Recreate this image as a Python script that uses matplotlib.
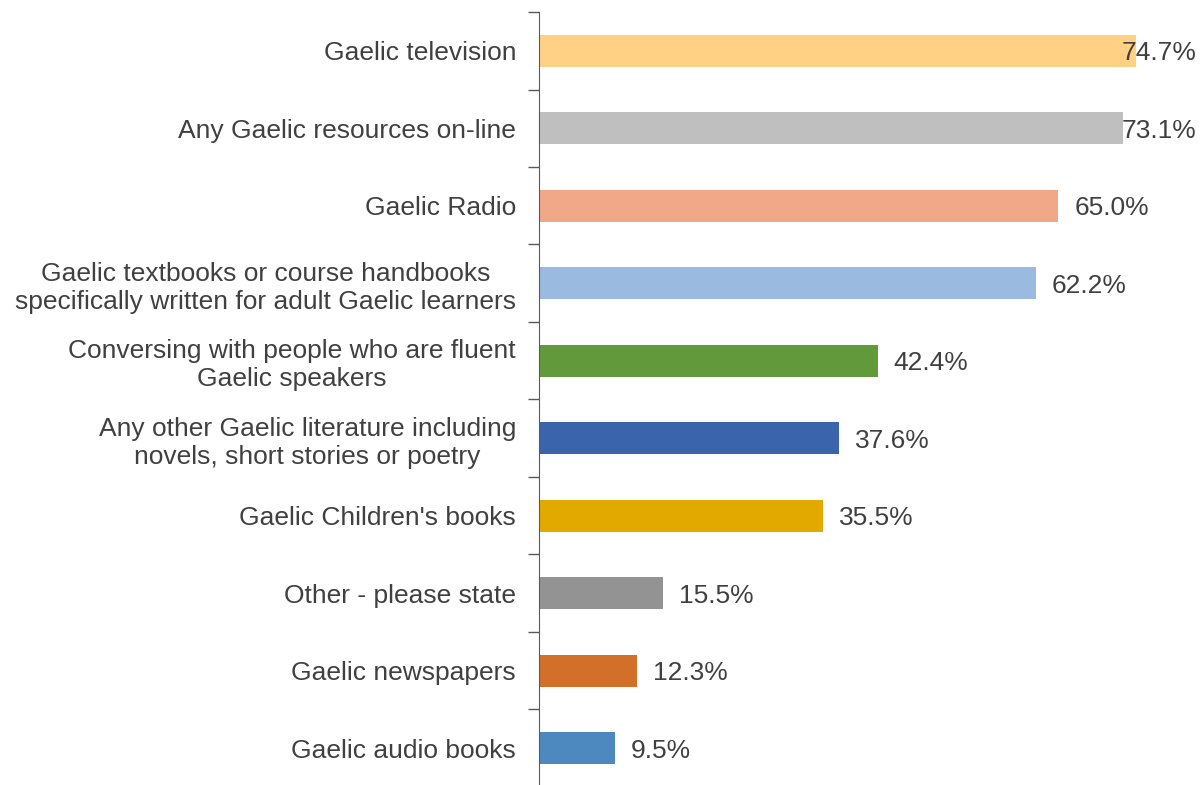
import numpy as np
import matplotlib
matplotlib.use("Agg")
import matplotlib.pyplot as plt

plt.rcParams['font.family'] = ['Liberation Sans', 'DejaVu Sans']

# resources used by learners, top to bottom
categories = [
    "Gaelic television",
    "Any Gaelic resources on-line",
    "Gaelic Radio",
    "Gaelic textbooks or course handbooks\nspecifically written for adult Gaelic learners",
    "Conversing with people who are fluent\nGaelic speakers",
    "Any other Gaelic literature including\nnovels, short stories or poetry",
    "Gaelic Children's books",
    "Other - please state",
    "Gaelic newspapers",
    "Gaelic audio books",
]
percentages = [74.7, 73.1, 65.0, 62.2, 42.4, 37.6, 35.5, 15.5, 12.3, 9.5]
bar_colors = ["#FFD185", "#BFBFBF", "#F0A889", "#9BBAE0", "#61993B",
              "#3A64AC", "#E2AA00", "#939393", "#D2702A", "#4D89BE"]

text_color = "#404040"
fsize = 19

fig = plt.figure(figsize=(12.02, 7.85), dpi=100)
ax = fig.add_axes([0.4484, -0.0025, 0.5516, 0.9872])

y = np.arange(len(categories))
ax.barh(y, percentages, height=0.41, color=bar_colors)

ax.set_ylim(len(categories) - 0.5, -0.5)
ax.set_xlim(0, 83)

# value labels, kept inside the right edge for the longest bars
for yi, v in zip(y, percentages):
    ax.text(min(v + 2.0, 73.0), yi, f"{v:.1f}%", va="center_baseline", ha="left",
            fontsize=fsize, color=text_color)

# boundary ticks between categories, labels at the centres
ax.set_yticks(np.arange(len(categories) + 1) - 0.5)
ax.set_yticklabels([])
ax.tick_params(axis="y", which="major", length=8, width=1, color="#595959",
               direction="out")
ax.set_yticks(y, minor=True)
ax.set_yticklabels(categories, minor=True, fontsize=fsize, color=text_color,
                   multialignment="center")
ax.tick_params(axis="y", which="minor", length=0, pad=16.5)

ax.set_xticks([])
for side in ["top", "right", "bottom"]:
    ax.spines[side].set_visible(False)
ax.spines["left"].set_color("#595959")

fig.savefig("out.png", dpi=100)
